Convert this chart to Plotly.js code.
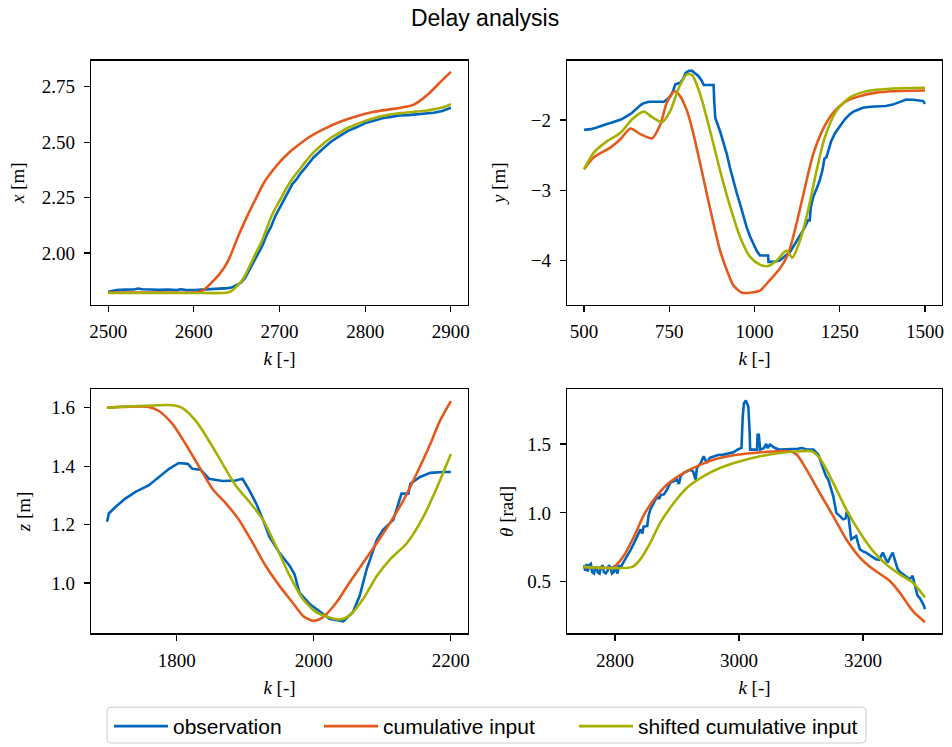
<!DOCTYPE html>
<html>
<head>
<meta charset="utf-8">
<script src="https://cdn.plot.ly/plotly-3.0.1.min.js"></script>
<style>html,body{margin:0;padding:0;background:#fff;}</style>
</head>
<body>
<div id="chart" style="width:952px;height:747px;"></div>
<script>
// ---------- Series names & colours ----------
const seriesNames = ["observation", "cumulative input", "shifted cumulative input"];
const seriesColors = ["#0065BD", "#E35A1C", "#A6B000"];

// ---------- Panel 1: x [m] ----------
const p1ObsK = [2500,2505,2510,2520,2530,2535,2540,2550,2560,2570,2580,2585,2590,2600,2610,2620,2630,2640,2645,2650,2655,2660,2665,2670,2675,2680,2685,2690,2695,2700,2705,2710,2715,2720,2725,2730,2740,2750,2760,2770,2780,2790,2800,2810,2820,2830,2840,2850,2860,2870,2880,2890,2900];
const p1ObsV = [1.826,1.830,1.833,1.835,1.836,1.840,1.837,1.836,1.834,1.836,1.833,1.837,1.834,1.833,1.835,1.836,1.838,1.842,1.846,1.855,1.866,1.889,1.924,1.958,1.996,2.033,2.081,2.118,2.166,2.203,2.242,2.278,2.311,2.333,2.362,2.384,2.432,2.468,2.502,2.527,2.551,2.567,2.586,2.597,2.608,2.614,2.620,2.622,2.626,2.628,2.633,2.641,2.655];
const p1CumK = [2500,2550,2600,2608,2615,2622,2630,2640,2653,2663,2673,2682,2692,2702,2712,2722,2731,2741,2751,2770,2790,2809,2829,2848,2856,2863,2875,2888,2900];
const p1CumV = [1.822,1.822,1.822,1.826,1.845,1.872,1.905,1.965,2.087,2.172,2.250,2.318,2.372,2.418,2.456,2.487,2.513,2.537,2.558,2.591,2.617,2.636,2.648,2.660,2.668,2.684,2.722,2.772,2.817];
const p1ShK = [2500,2600,2640,2645,2650,2655,2660,2665,2670,2675,2680,2685,2690,2695,2700,2705,2710,2715,2720,2725,2730,2740,2750,2760,2770,2780,2790,2800,2810,2820,2830,2840,2850,2860,2870,2880,2890,2900];
const p1ShV = [1.820,1.820,1.822,1.832,1.850,1.870,1.900,1.940,1.980,2.020,2.060,2.110,2.160,2.200,2.235,2.270,2.305,2.335,2.360,2.385,2.410,2.455,2.490,2.520,2.543,2.565,2.581,2.596,2.608,2.618,2.626,2.630,2.634,2.638,2.642,2.648,2.656,2.671];

// ---------- Panel 2: y [m] ----------
const p2ObsK = [500,510,520,535,550,565,580,597,610,627,640,656,665,675,690,710,734,745,753,760,768,782,790,798,808,817,826,836,845,851,865,880,882,885,899,909,919,928,938,948,958,967,977,987,997,1006,1016,1030,1040,1041,1055,1074,1090,1104,1118,1133,1145,1157,1162,1165,1172,1182,1191,1200,1205,1211,1218,1225,1237,1250,1265,1279,1290,1300,1318,1340,1367,1385,1406,1425,1445,1465,1484,1495,1500];
const p2ObsV = [-2.14,-2.14,-2.13,-2.11,-2.08,-2.06,-2.04,-2.01,-1.99,-1.94,-1.90,-1.83,-1.79,-1.76,-1.74,-1.74,-1.74,-1.70,-1.66,-1.60,-1.49,-1.47,-1.42,-1.33,-1.30,-1.30,-1.33,-1.376,-1.44,-1.50,-1.50,-1.50,-1.75,-1.97,-2.16,-2.32,-2.49,-2.68,-2.87,-3.04,-3.20,-3.37,-3.53,-3.66,-3.76,-3.86,-3.93,-3.93,-3.93,-4.02,-4.02,-4.00,-3.94,-3.88,-3.77,-3.65,-3.55,-3.43,-3.43,-3.25,-3.10,-2.98,-2.865,-2.70,-2.55,-2.53,-2.40,-2.30,-2.18,-2.085,-1.99,-1.92,-1.88,-1.86,-1.825,-1.81,-1.80,-1.80,-1.78,-1.74,-1.707,-1.71,-1.72,-1.73,-1.77];
const p2CumK = [500,529,578,607,636,665,700,724,743,766,782,802,821,841,860,880,899,919,938,963,987,1016,1045,1074,1099,1123,1148,1172,1201,1230,1269,1308,1357,1406,1500];
const p2CumV = [-2.70,-2.53,-2.39,-2.27,-2.12,-2.20,-2.26,-2.06,-1.75,-1.59,-1.66,-1.87,-2.20,-2.63,-3.05,-3.48,-3.86,-4.14,-4.355,-4.46,-4.46,-4.43,-4.28,-4.12,-3.905,-3.48,-2.96,-2.49,-2.13,-1.90,-1.73,-1.66,-1.61,-1.59,-1.58];
const p2ShK = [500,529,568,607,641,675,700,729,753,778,802,817,841,870,899,929,958,987,1016,1040,1065,1094,1111,1133,1157,1182,1206,1240,1279,1328,1406,1500];
const p2ShV = [-2.70,-2.46,-2.30,-2.18,-1.99,-1.88,-1.96,-2.03,-1.87,-1.54,-1.35,-1.36,-1.64,-2.16,-2.72,-3.24,-3.67,-3.95,-4.06,-4.08,-4.00,-3.86,-3.96,-3.72,-3.29,-2.72,-2.25,-1.87,-1.68,-1.59,-1.55,-1.54];

// ---------- Panel 3: z [m] ----------
const p3ObsK = [1698,1699,1701,1711,1725,1740,1759,1774,1789,1803,1816,1823,1835,1847,1867,1886,1896,1906,1916,1926,1935,1950,1965,1972,1979,1994,2009,2023,2043,2057,2067,2077,2092,2101,2116,2128,2138,2141,2155,2170,2189,2200];
const p3ObsV = [1.210,1.215,1.238,1.261,1.289,1.312,1.334,1.363,1.391,1.411,1.408,1.391,1.388,1.357,1.349,1.351,1.357,1.317,1.272,1.216,1.159,1.103,1.058,1.029,0.967,0.928,0.902,0.877,0.868,0.900,0.956,1.046,1.148,1.182,1.216,1.306,1.306,1.340,1.363,1.377,1.380,1.380];
const p3CumK = [1698,1720,1759,1774,1794,1813,1833,1852,1872,1891,1911,1930,1950,1969,1984,1999,2013,2033,2052,2072,2092,2111,2131,2150,2170,2184,2200];
const p3CumV = [1.600,1.603,1.603,1.589,1.544,1.476,1.397,1.323,1.272,1.216,1.137,1.058,0.990,0.933,0.888,0.870,0.882,0.933,1.001,1.069,1.137,1.205,1.284,1.374,1.476,1.555,1.623];
const p3ShK = [1698,1745,1794,1808,1828,1847,1867,1886,1906,1926,1945,1965,1984,2004,2023,2038,2052,2072,2092,2111,2136,2160,2180,2200];
const p3ShV = [1.600,1.606,1.609,1.600,1.555,1.487,1.408,1.334,1.278,1.216,1.125,1.024,0.945,0.899,0.882,0.875,0.888,0.945,1.024,1.080,1.137,1.227,1.329,1.442];

// ---------- Panel 4: theta [rad] ----------
const p4ObsK = [2750,2752,2754,2756,2758,2761,2763,2766,2768,2770,2772,2775,2777,2780,2782,2785,2788,2790,2793,2795,2798,2800,2802,2804,2806,2809,2812,2816,2820,2825,2831,2836,2841,2844,2846,2852,2854,2857,2862,2868,2871,2874,2879,2884,2889,2895,2900,2903,2906,2911,2916,2922,2926,2930,2932,2938,2943,2946,2948,2953,2959,2966,2975,2983,2991,2998,3004,3006,3008,3011,3014,3015,3017,3018,3024,3029,3030,3032,3034,3040,3044,3046,3050,3058,3066,3075,3088,3095,3101,3110,3120,3124,3128,3132,3136,3140,3144,3148,3152,3155,3157,3162,3168,3172,3174,3176,3178,3181,3185,3189,3192,3195,3200,3205,3212,3216,3221,3226,3230,3232,3236,3240,3244,3248,3252,3256,3260,3264,3270,3275,3278,3280,3284,3288,3292,3296,3298,3300];
const p4ObsV = [0.62,0.58,0.63,0.575,0.62,0.63,0.57,0.56,0.60,0.61,0.57,0.56,0.60,0.62,0.57,0.56,0.58,0.62,0.60,0.56,0.57,0.62,0.58,0.56,0.62,0.60,0.63,0.66,0.688,0.73,0.784,0.83,0.88,0.85,0.90,0.905,0.98,1.025,1.07,1.122,1.10,1.13,1.134,1.17,1.218,1.23,1.242,1.21,1.27,1.29,1.30,1.314,1.30,1.242,1.326,1.36,1.41,1.38,1.363,1.40,1.41,1.42,1.423,1.43,1.44,1.46,1.471,1.70,1.796,1.816,1.79,1.772,1.60,1.459,1.46,1.459,1.567,1.567,1.459,1.47,1.50,1.47,1.495,1.47,1.459,1.46,1.459,1.465,1.471,1.46,1.459,1.44,1.423,1.37,1.314,1.27,1.242,1.18,1.122,1.05,1.00,0.98,0.953,0.96,1.01,1.00,0.90,0.808,0.82,0.832,0.78,0.736,0.72,0.712,0.69,0.68,0.664,0.66,0.70,0.712,0.67,0.64,0.68,0.712,0.65,0.592,0.57,0.555,0.535,0.519,0.53,0.543,0.47,0.399,0.38,0.35,0.33,0.302];
const p4CumK = [2749,2798,2814,2831,2847,2863,2884,2911,2938,2964,2991,3023,3055,3082,3093,3109,3130,3152,3173,3195,3216,3243,3259,3280,3300];
const p4CumV = [0.608,0.608,0.688,0.833,0.989,1.098,1.206,1.290,1.350,1.392,1.418,1.435,1.445,1.447,1.423,1.314,1.146,0.977,0.808,0.676,0.592,0.507,0.423,0.290,0.206];
const p4ShK = [2749,2828,2841,2857,2873,2895,2916,2943,2970,3002,3034,3066,3098,3117,3130,3152,3173,3195,3216,3237,3259,3280,3300];
const p4ShV = [0.608,0.608,0.664,0.784,0.929,1.073,1.182,1.266,1.327,1.375,1.411,1.435,1.447,1.447,1.399,1.218,1.025,0.857,0.724,0.628,0.555,0.495,0.387];

// ---------- Axis ticks & labels ----------
const p1TickK = [2500,2600,2700,2800,2900];
const p1TickV = [2.00,2.25,2.50,2.75];
const p2TickK = [500,750,1000,1250,1500];
const p2TickV = [-4,-3,-2];
const p2TickVText = ["\u22124","\u22123","\u22122"];
const p3TickK = [1800,2000,2200];
const p3TickV = [1.0,1.2,1.4,1.6];
const p4TickK = [2800,3000,3200];
const p4TickV = [0.5,1.0,1.5];
const xLabel = "<i>k</i> [-]";
const yLabels = ["<i>x</i> [m]", "<i>y</i> [m]", "<i>z</i> [m]", "<i>θ</i> [rad]"];
const chartTitle = "Delay analysis";

// ---------- Build traces ----------
const panels = [
  [[p1ObsK,p1ObsV],[p1CumK,p1CumV],[p1ShK,p1ShV]],
  [[p2ObsK,p2ObsV],[p2CumK,p2CumV],[p2ShK,p2ShV]],
  [[p3ObsK,p3ObsV],[p3CumK,p3CumV],[p3ShK,p3ShV]],
  [[p4ObsK,p4ObsV],[p4CumK,p4CumV],[p4ShK,p4ShV]]
];
const legendIds = ["legend", "legend2", "legend3"];
const traces = [];
panels.forEach((panel, pi) => {
  const sfx = pi === 0 ? "" : String(pi + 1);
  panel.forEach((s, si) => {
    traces.push({
      x: s[0], y: s[1], type: "scatter", mode: "lines",
      name: seriesNames[si], legendgroup: seriesNames[si],
      legend: legendIds[si],
      showlegend: pi === 0,
      line: si === 0 ? {color: seriesColors[si], width: 2.6}
                     : {color: seriesColors[si], width: 2.6, shape: "spline", smoothing: 0.7},
      xaxis: "x" + sfx, yaxis: "y" + sfx
    });
  });
});

const tickFont = {family: "Liberation Serif, DejaVu Serif, serif", size: 19, color: "#000"};
const labelFont = {family: "Liberation Serif, DejaVu Serif, serif", size: 19, color: "#000"};
function ax(extra) {
  return Object.assign({
    showline: true, mirror: true, linecolor: "#000", linewidth: 1.3,
    ticks: "outside", ticklen: 6, tickwidth: 1.2, tickcolor: "#000",
    showgrid: false, zeroline: false, tickfont: tickFont, tickmode: "array"
  }, extra);
}
const xL = [0.0956, 0.4916], xR = [0.5956, 0.9895];
const yT = [0.5904, 0.9183], yB = [0.1486, 0.4766];

// legend frame (px in figure) and item anchors
const W = 952, H = 747;
const boxL = 107, boxR = 866, boxT = 710, boxB = 746, rad = 4;
const itemX = [109, 319, 574];
const px = v => v / W, py = v => 1 - v / H;
const framePath =
  `M ${px(boxL + rad)},${py(boxT)} L ${px(boxR - rad)},${py(boxT)} Q ${px(boxR)},${py(boxT)} ${px(boxR)},${py(boxT + rad)} ` +
  `L ${px(boxR)},${py(boxB - rad)} Q ${px(boxR)},${py(boxB)} ${px(boxR - rad)},${py(boxB)} ` +
  `L ${px(boxL + rad)},${py(boxB)} Q ${px(boxL)},${py(boxB)} ${px(boxL)},${py(boxB - rad)} ` +
  `L ${px(boxL)},${py(boxT + rad)} Q ${px(boxL)},${py(boxT)} ${px(boxL + rad)},${py(boxT)} Z`;

function leg(i) {
  return {
    orientation: "h", x: px(itemX[i]), xanchor: "left", y: py(boxT) + 0.001, yanchor: "top",
    font: {family: "Liberation Sans, Arial, sans-serif", size: 21, color: "#000"},
    borderwidth: 0, bgcolor: "rgba(0,0,0,0)", itemwidth: 54
  };
}

const layout = {
  width: W, height: H,
  margin: {l: 0, r: 0, t: 0, b: 0},
  paper_bgcolor: "#fff", plot_bgcolor: "#fff",
  title: {text: chartTitle, font: {family: "Liberation Sans, Arial, sans-serif", size: 23, color: "#000"},
          x: 0.5095, xanchor: "center", y: 0.976, yanchor: "middle"},
  xaxis:  ax({domain: xL, anchor: "y",  range: [2480, 2920], tickvals: p1TickK, ticklabelstandoff: 3, title: {text: xLabel, font: labelFont, standoff: 11}}),
  yaxis:  ax({domain: yT, anchor: "x",  range: [1.767, 2.867], tickvals: p1TickV, tickformat: ".2f", ticklabelstandoff: 5, title: {text: yLabels[0], font: labelFont, standoff: 12}}),
  xaxis2: ax({domain: xR, anchor: "y2", range: [450, 1550], tickvals: p2TickK, ticklabelstandoff: 3, title: {text: xLabel, font: labelFont, standoff: 11}}),
  yaxis2: ax({domain: yT, anchor: "x2", range: [-4.631, -1.156], tickvals: p2TickV, ticktext: p2TickVText, ticklabelstandoff: 5, title: {text: yLabels[1], font: labelFont, standoff: 20}}),
  xaxis3: ax({domain: xL, anchor: "y3", range: [1675, 2225], tickvals: p3TickK, ticklabelstandoff: 3, title: {text: xLabel, font: labelFont, standoff: 11}}),
  yaxis3: ax({domain: yB, anchor: "x3", range: [0.827, 1.663], tickvals: p3TickV, tickformat: ".1f", ticklabelstandoff: 5, title: {text: yLabels[2], font: labelFont, standoff: 15}}),
  xaxis4: ax({domain: xR, anchor: "y4", range: [2722.5, 3327.5], tickvals: p4TickK, ticklabelstandoff: 3, title: {text: xLabel, font: labelFont, standoff: 11}}),
  yaxis4: ax({domain: yB, anchor: "x4", range: [0.125, 1.896], tickvals: p4TickV, tickformat: ".1f", ticklabelstandoff: 5, title: {text: yLabels[3], font: labelFont, standoff: 8}}),
  legend: leg(0), legend2: leg(1), legend3: leg(2),
  shapes: [{type: "path", xref: "paper", yref: "paper", path: framePath,
            line: {color: "#cccccc", width: 1}, fillcolor: "rgba(0,0,0,0)", layer: "below"}],
  showlegend: true
};

Plotly.newPlot("chart", traces, layout, {displayModeBar: false, staticPlot: true});
</script>
</body>
</html>
